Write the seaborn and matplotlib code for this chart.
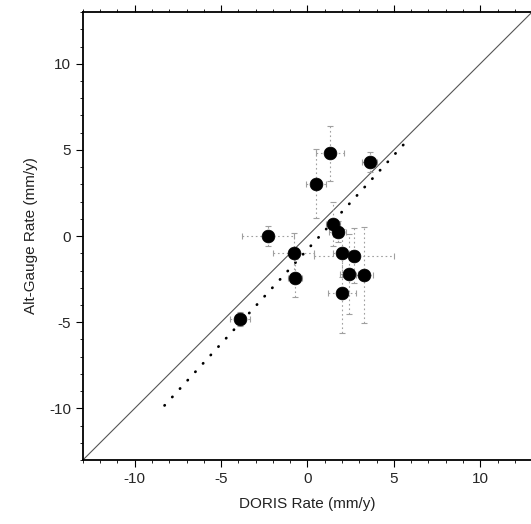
import matplotlib
matplotlib.use("Agg")
import matplotlib.pyplot as plt
from matplotlib.ticker import MultipleLocator
import seaborn as sns
import pandas as pd

# Data
doris_rate = [1.3, 3.6, 0.5, 1.5, 1.75, -2.3, -0.8, 2.0, 2.7, -0.7, 2.4, 3.3, 2.0, -3.9]
gauge_rate = [4.8, 4.3, 3.05, 0.7, 0.25, 0.0, -1.0, -1.0, -1.15, -2.45, -2.2, -2.25, -3.3, -4.8]
doris_err = [0.8, 0.45, 0.6, 0.4, 0.5, 1.5, 1.2, 0.5, 2.3, 0.4, 0.5, 0.5, 0.8, 0.6]
gauge_err = [1.6, 0.6, 2.0, 1.3, 0.6, 0.6, 1.2, 1.4, 1.6, 1.1, 2.3, 2.8, 2.3, 0.4]

identity_x = [-13, 13]
identity_y = [-13, 13]
fit_x = [-8.27, 5.95]
fit_y = [-9.83, 5.73]

ticks = [-10, -5, 0, 5, 10]
xlabel = "DORIS Rate (mm/y)"
ylabel = "Alt-Gauge Rate (mm/y)"

sns.set_theme(style="white")
plt.rcParams["font.family"] = ["Liberation Sans", "DejaVu Sans"]
plt.rcParams["axes.unicode_minus"] = False

df = pd.DataFrame({"x": doris_rate, "y": gauge_rate, "xe": doris_err, "ye": gauge_err})

fig = plt.figure(figsize=(5.31, 5.24), dpi=100)
ax = fig.add_axes([0.156, 0.122, 0.846, 0.855])

ax.plot(identity_x, identity_y, color="#555555", lw=0.8, zorder=1)
ax.plot(fit_x, fit_y, color="black", lw=2.0, linestyle=(0, (0.1, 4.0)),
        dash_capstyle="round", zorder=1)

cont = ax.errorbar(df["x"], df["y"], xerr=df["xe"], yerr=df["ye"], fmt="none",
                   ecolor="#a0a0a0", elinewidth=0.8, capsize=2.5, capthick=0.8,
                   zorder=2)
for lc in cont.lines[2]:
    lc.set_linestyle((0, (1.5, 2.5)))

sns.scatterplot(data=df, x="x", y="y", ax=ax, color="black", s=85,
                edgecolor="black", linewidth=0.5, zorder=3, legend=False)

ax.set_xlim(-13, 13)
ax.set_ylim(-13, 13)
ax.set_xticks(ticks)
ax.set_yticks(ticks)
ax.xaxis.set_minor_locator(MultipleLocator(1))
ax.yaxis.set_minor_locator(MultipleLocator(1))
ax.tick_params(which="both", direction="out", top=True, right=True,
               bottom=True, left=True, color="black", labelsize=11)
ax.tick_params(which="major", length=5, width=0.8)
ax.tick_params(which="minor", length=2.5, width=0.6)
ax.tick_params(labeltop=False, labelright=False)
for s in ax.spines.values():
    s.set_color("black")
    s.set_linewidth(1.3)

ax.set_xlabel(xlabel, fontsize=11, color="#222222", labelpad=8)
ax.set_ylabel(ylabel, fontsize=11, color="#222222", labelpad=8)

fig.savefig("out.png", dpi=100, facecolor="white")
